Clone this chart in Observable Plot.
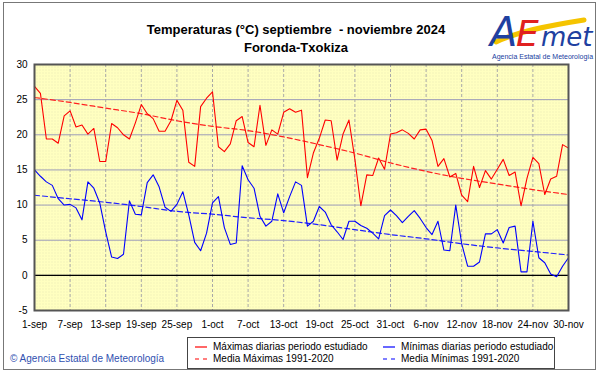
<!DOCTYPE html>
<html><head><meta charset="utf-8">
<script src="https://cdn.jsdelivr.net/npm/d3@7"></script>
<script src="https://cdn.jsdelivr.net/npm/@observablehq/plot@0.6"></script>
<style>
body{margin:0;background:#fff;font-family:"Liberation Sans",Arial,sans-serif;}
#wrap{position:relative;width:601px;height:374px;overflow:hidden;background:#fff;}
#chart{position:absolute;left:0;top:0;}
.border{position:absolute;left:3px;top:2px;width:593px;height:368px;border:1px solid #777;box-sizing:border-box;}
.title{position:absolute;left:0;width:592px;text-align:center;font-weight:bold;font-size:13px;color:#000;white-space:pre;}
#legend{position:absolute;left:187px;top:337px;width:368px;height:32px;border:1px solid #444;box-sizing:border-box;background:#fff;font-size:10px;}
.li{position:absolute;height:12px;line-height:12px;white-space:nowrap;}
.li svg{position:absolute;left:0;top:0;}
.li span{position:absolute;left:18px;top:0;}
#copy{position:absolute;left:10px;top:353px;font-size:10px;color:#3050B0;white-space:nowrap;}
#logo{position:absolute;left:486px;top:4px;}
</style></head>
<body>
<div id="wrap">
  <div id="chart"></div>
  <div class="border"></div>
  <div class="title" style="top:22px">Temperaturas (°C) septiembre  - noviembre 2024</div>
  <div class="title" style="top:40px">Foronda-Txokiza</div>
  <svg id="logo" width="108" height="60">
    <path d="M10,38 C30,28 60,22 98,16" stroke="#F5C400" stroke-width="5" fill="none" stroke-linecap="round"/>
    <text x="4" y="42" font-family="DejaVu Sans, sans-serif" font-style="italic" font-size="40" fill="#2040A0">A</text>
    <text x="30" y="42" font-family="DejaVu Sans, sans-serif" font-style="italic" font-size="36" fill="#E02020">E</text>
    <text x="55" y="42" font-family="DejaVu Sans, sans-serif" font-style="italic" font-size="26" fill="#2040A0">met</text>
    <text x="6" y="55" font-family="Liberation Sans, Arial, sans-serif" font-size="7" fill="#2040A0">Agencia Estatal de Meteorología</text>
  </svg>
  <div id="legend">
    <div class="li" style="left:7px;top:3px"><svg width="14" height="12"><line x1="0" y1="6" x2="12" y2="6" stroke="#FF0000" stroke-width="1.2"/></svg><span>Máximas diarias periodo estudiado</span></div>
    <div class="li" style="left:195px;top:3px"><svg width="14" height="12"><line x1="0" y1="6" x2="12" y2="6" stroke="#0000FF" stroke-width="1.2"/></svg><span>Mínimas diarias periodo estudiado</span></div>
    <div class="li" style="left:7px;top:15px"><svg width="14" height="12"><line x1="0" y1="6" x2="12" y2="6" stroke="#FF0000" stroke-width="1.2" stroke-dasharray="4,4"/></svg><span>Media Máximas 1991-2020</span></div>
    <div class="li" style="left:195px;top:15px"><svg width="14" height="12"><line x1="0" y1="6" x2="12" y2="6" stroke="#0000FF" stroke-width="1.2" stroke-dasharray="4,4"/></svg><span>Media Mínimas 1991-2020</span></div>
  </div>
  <div id="copy">© Agencia Estatal de Meteorología</div>
</div>
<script>
const maxT = [26.9, 25.9, 19.4, 19.4, 18.8, 22.7, 23.4, 21.1, 21.4, 20.1,
  20.9, 16.2, 16.2, 21.6, 21.0, 20.0, 19.4, 21.7, 24.3, 23.0,
  22.3, 20.5, 20.5, 22.0, 24.9, 23.5, 16.1, 15.5, 24.0, 25.2,
  26.1, 18.3, 17.6, 18.7, 22.0, 22.6, 18.9, 18.3, 24.2, 18.5,
  20.7, 20.1, 23.2, 23.7, 23.2, 23.5, 13.9, 17.4, 19.5, 22.1,
  22.0, 16.4, 20.1, 22.1, 16.5, 9.9, 14.3, 14.2, 16.7, 15.1,
  20.1, 20.3, 20.7, 20.2, 19.4, 20.7, 20.8, 19.2, 15.5, 16.6,
  14.0, 14.5, 11.4, 10.5, 15.5, 12.5, 14.9, 13.7, 15.1, 16.5,
  14.2, 14.7, 9.9, 13.8, 16.8, 15.9, 11.5, 13.7, 14.1, 18.6,
  18.1];
const minT = [15.0, 14.1, 13.3, 12.8, 10.9, 10.0, 10.1, 9.6, 7.9, 13.3,
  12.4, 10.3, 6.2, 2.6, 2.4, 3.0, 10.6, 8.7, 8.6, 13.2,
  14.3, 12.6, 9.7, 9.1, 10.1, 11.9, 8.6, 4.7, 3.5, 6.0,
  10.3, 11.2, 6.8, 4.4, 4.6, 15.6, 13.6, 12.4, 8.4, 7.0,
  7.7, 11.6, 8.9, 11.2, 13.3, 12.8, 7.0, 7.7, 9.8, 9.0,
  7.2, 6.2, 5.1, 7.7, 7.7, 7.1, 6.7, 6.0, 5.2, 8.5,
  9.3, 8.5, 7.5, 8.4, 9.2, 8.1, 6.8, 5.8, 7.7, 3.6,
  3.5, 10.0, 4.5, 1.3, 1.3, 1.9, 5.9, 5.9, 6.5, 4.6,
  6.8, 7.0, 0.5, 0.5, 7.7, 2.5, 1.8, 0.2, -0.2, 1.3,
  2.5];
const normDays = [0, 6, 12, 18, 24, 30, 36, 42, 48, 54, 60, 66, 72, 78, 84, 90];
const normMax = [25.3, 24.6, 23.8, 23.0, 22.0, 21.2, 20.6, 19.7, 18.6, 17.4, 16.0, 14.8, 13.8, 13.0, 12.2, 11.5];
const normMin = [11.4, 10.9, 10.4, 9.8, 9.1, 8.7, 8.2, 7.8, 7.2, 6.5, 5.8, 5.2, 4.5, 3.9, 3.4, 2.9];
const tickLabels = ["1-sep","7-sep","13-sep","19-sep","25-sep","1-oct","7-oct","13-oct","19-oct","25-oct","31-oct","6-nov","12-nov","18-nov","24-nov","30-nov"];
const yTicks = [-5, 0, 5, 10, 15, 20, 25, 30];

const daily = maxT.map((v, i) => ({day: i, max: v, min: minT[i]}));
const normals = normDays.map((d, i) => ({day: d, max: normMax[i], min: normMin[i]}));

const chart = Plot.plot({
  width: 601, height: 374,
  marginLeft: 34, marginRight: 33, marginTop: 64, marginBottom: 64,
  style: {background: "transparent", fontFamily: "Liberation Sans, Arial, sans-serif", fontSize: "10px", color: "#000"},
  x: {domain: [0, 90]},
  y: {domain: [-5, 30]},
  marks: [
    Plot.frame({fill: "#FFFFC0", stroke: null}),
    Plot.frame({fill: "url(#dots)", stroke: null}),
    Plot.gridY(yTicks, {stroke: "#9C9CB8", strokeOpacity: 1}),
    Plot.gridX(normDays, {stroke: "#A8A8A8", strokeOpacity: 1, strokeDasharray: "3,2"}),
    Plot.ruleY([0], {stroke: "#000", strokeWidth: 1.2}),
    Plot.line(normals, {x: "day", y: "max", stroke: "#FF2020", strokeWidth: 1.2, strokeDasharray: "5,3", curve: "monotone-x"}),
    Plot.line(normals, {x: "day", y: "min", stroke: "#2020FF", strokeWidth: 1.2, strokeDasharray: "5,3", curve: "monotone-x"}),
    Plot.line(daily, {x: "day", y: "max", stroke: "#FF0000", strokeWidth: 1.1}),
    Plot.line(daily, {x: "day", y: "min", stroke: "#0000FF", strokeWidth: 1.1}),
    Plot.frame({stroke: "#555", strokeWidth: 2}),
    Plot.axisY(yTicks, {tickSize: 0, tickPadding: 7, fontSize: 10, label: null, tickFormat: d => String(d)}),
    Plot.axisX(normDays, {tickSize: 0, tickPadding: 10, fontSize: 10, label: null, tickFormat: d => tickLabels[normDays.indexOf(d)]})
  ]
});
// subtle dotted texture of the plotting area
const ns = "http://www.w3.org/2000/svg";
const defs = document.createElementNS(ns, "defs");
const pat = document.createElementNS(ns, "pattern");
pat.setAttribute("id", "dots"); pat.setAttribute("width", "3"); pat.setAttribute("height", "3");
pat.setAttribute("patternUnits", "userSpaceOnUse");
const dot = document.createElementNS(ns, "rect");
dot.setAttribute("width", "1"); dot.setAttribute("height", "1"); dot.setAttribute("fill", "#E6E6B4");
pat.appendChild(dot); defs.appendChild(pat);
chart.insertBefore(defs, chart.firstChild);
document.getElementById("chart").appendChild(chart);
</script>
</body></html>
